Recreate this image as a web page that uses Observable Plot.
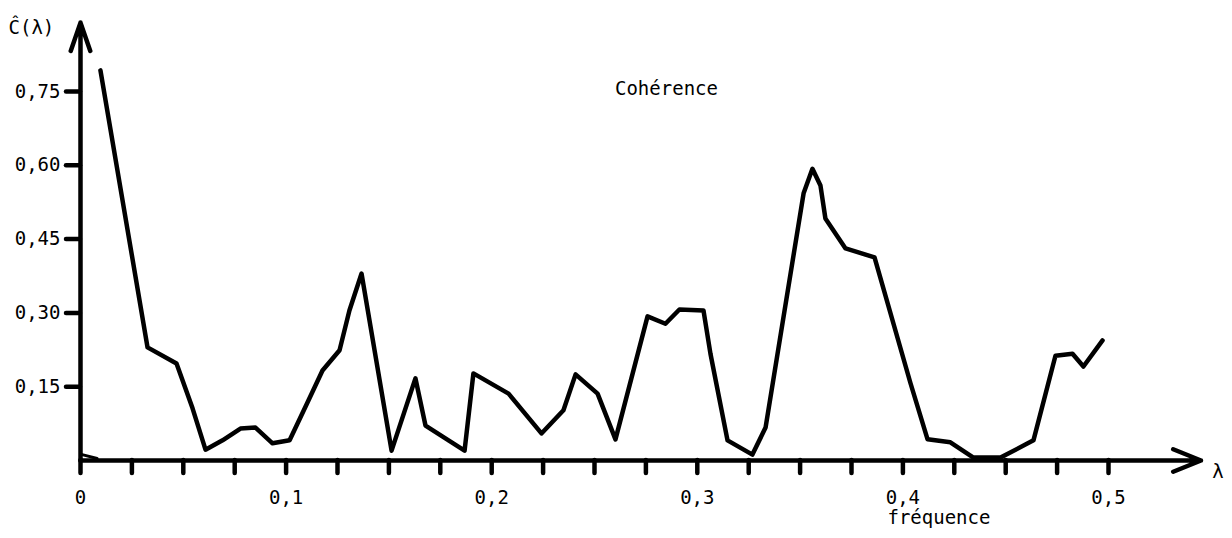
<!DOCTYPE html>
<html>
<head>
<meta charset="utf-8">
<script src="https://cdn.jsdelivr.net/npm/d3@7"></script>
<script src="https://cdn.jsdelivr.net/npm/@observablehq/plot@0.6"></script>
<style>
  html, body { margin: 0; padding: 0; background: #fff; }
  svg { display: block; }
</style>
</head>
<body>
<div id="chart"></div>
<script>
// Coherence estimate C(λ) vs frequency λ
const freq = [0.0097, 0.0326, 0.0467, 0.0545, 0.0608, 0.0691, 0.0778, 0.0851, 0.0934, 0.1017,
  0.1104, 0.1177, 0.1260, 0.1308, 0.1367, 0.1513, 0.1629, 0.1678, 0.1868, 0.1911,
  0.2082, 0.2242, 0.2349, 0.2408, 0.2515, 0.2602, 0.2758, 0.2845, 0.2913, 0.3030,
  0.3064, 0.3147, 0.3268, 0.3332, 0.3517, 0.3560, 0.3599, 0.3623, 0.3721, 0.3862,
  0.4037, 0.4120, 0.4231, 0.4343, 0.4475, 0.4635, 0.4742, 0.4825, 0.4878, 0.4971];
const coherence = [0.793, 0.230, 0.197, 0.106, 0.022, 0.041, 0.065, 0.067, 0.035, 0.041,
  0.118, 0.183, 0.224, 0.305, 0.380, 0.020, 0.167, 0.071, 0.020, 0.177,
  0.136, 0.055, 0.102, 0.175, 0.136, 0.043, 0.293, 0.278, 0.307, 0.305,
  0.217, 0.041, 0.012, 0.067, 0.543, 0.593, 0.559, 0.492, 0.431, 0.413,
  0.157, 0.043, 0.037, 0.006, 0.006, 0.041, 0.213, 0.217, 0.191, 0.244];
// small stroke at the origin
const originFreq = [0.0008, 0.0081];
const originCoh = [0.012, 0.004];

const yTicks = [0.15, 0.30, 0.45, 0.60, 0.75];
const yTickLabels = ["0,15", "0,30", "0,45", "0,60", "0,75"];
const xTicks = d3.range(0, 21).map(i => i * 0.025);
const xLabelTicks = [0, 0.1, 0.2, 0.3, 0.4, 0.5];
const xTickLabels = ["0", "0,1", "0,2", "0,3", "0,4", "0,5"];

const xAxisEnd = 0.545;
const yAxisEnd = 0.89;

const series = freq.map((f, i) => ({f, c: coherence[i]}));
const originSeries = originFreq.map((f, i) => ({f, c: originCoh[i]}));

const yLabelMap = new Map(yTicks.map((t, i) => [t, yTickLabels[i]]));
const xLabelMap = new Map(xLabelTicks.map((t, i) => [t.toFixed(3), xTickLabels[i]]));

const FONT = "DejaVu Sans Mono";

const centeredNotes = [
  {x: 0.285, y: 0.756, text: "Cohérence"}
];
const leftNotes = [
  {x: 0.3925, y: -0.116, text: "fréquence"},
  {x: 0.5505, y: -0.024, text: "λ"},
  {x: -0.035, y: 0.880, text: "Ĉ(λ)"}
];

const textStyle = {fontSize: 19, fontFamily: FONT, letterSpacing: "2.5px", fill: "#000", lineAnchor: "middle"};

const chart = Plot.plot({
  width: 1232,
  height: 538,
  marginLeft: 80,
  marginRight: 124,
  marginTop: 91,
  marginBottom: 78,
  x: {domain: [0, 0.5], axis: null},
  y: {domain: [0, 0.75], axis: null},
  style: {fontFamily: FONT, background: "#fff", color: "#000", overflow: "visible"},
  marks: [
    Plot.axisY(yTicks, {
      tickSize: 14, tickPadding: 6, strokeWidth: 4.5, strokeLinecap: "round",
      tickFormat: d => yLabelMap.get(d), fontSize: 19, fontFamily: FONT,
      letterSpacing: "2.5px", label: null
    }),
    Plot.axisX(xTicks, {
      anchor: "bottom", tickSize: 13, tickPadding: 17, strokeWidth: 4.5, strokeLinecap: "round",
      tickFormat: d => xLabelMap.get(d.toFixed(3)) ?? "", fontSize: 19, fontFamily: FONT,
      letterSpacing: "2.5px", label: null
    }),
    Plot.arrow([0], {x1: 0, y1: 0, x2: 0, y2: yAxisEnd, strokeWidth: 4.5, headLength: 10, headAngle: 38, stroke: "#000"}),
    Plot.arrow([0], {x1: 0, y1: 0, x2: xAxisEnd, y2: 0, strokeWidth: 4.5, headLength: 10, headAngle: 44, stroke: "#000"}),
    Plot.line(originSeries, {x: "f", y: "c", stroke: "#000", strokeWidth: 3, curve: "linear"}),
    Plot.line(series, {x: "f", y: "c", stroke: "#000", strokeWidth: 4.5, strokeLinejoin: "round", strokeLinecap: "round"}),
    Plot.text(centeredNotes, {x: "x", y: "y", text: "text", textAnchor: "middle", ...textStyle}),
    Plot.text(leftNotes, {x: "x", y: "y", text: "text", textAnchor: "start", ...textStyle})
  ]
});
document.getElementById("chart").appendChild(chart);
</script>
</body>
</html>
